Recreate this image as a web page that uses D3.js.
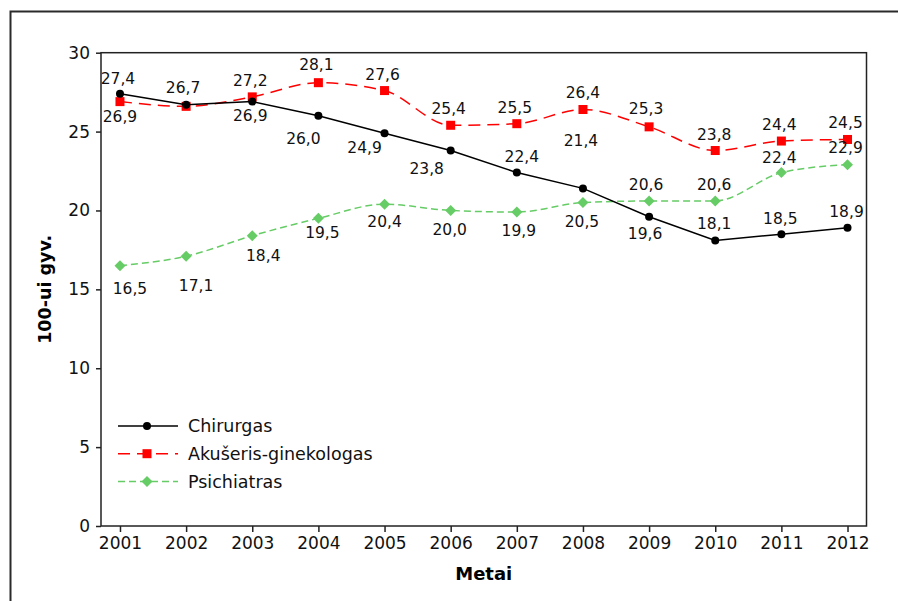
<!DOCTYPE html>
<html>
<head>
<meta charset="utf-8">
<script src="https://cdn.jsdelivr.net/npm/d3@7"></script>
<style>
  body { margin: 0; background: #fff; }
  svg { display: block; font-family: "DejaVu Sans", Verdana, sans-serif; }
</style>
</head>
<body>
<svg id="chart" width="899" height="601"></svg>
<script>
// data
var years = [2001, 2002, 2003, 2004, 2005, 2006, 2007, 2008, 2009, 2010, 2011, 2012];
var chirurgas = [27.4, 26.7, 26.9, 26.0, 24.9, 23.8, 22.4, 21.4, 19.6, 18.1, 18.5, 18.9];
var akuseris = [26.9, 26.6, 27.2, 28.1, 27.6, 25.4, 25.5, 26.4, 25.3, 23.8, 24.4, 24.5];
var psichiatras = [16.5, 17.1, 18.4, 19.5, 20.4, 20.0, 19.9, 20.5, 20.6, 20.6, 22.4, 22.9];
var seriesNames = ["Chirurgas", "Akušeris-ginekologas", "Psichiatras"];
var yTicks = [0, 5, 10, 15, 20, 25, 30];

// label offsets (dx, dy of label centre from the point), null = not shown
var chirurgasLabelPos = [[-2,-15],[-3,-17],[-2,14],[-15,23],[-20,14],[-24,18],[5,-16],[-2,-48],[-4,17],[-1,-17],[-1,-16],[-1,-16]];
var akuserisLabelPos = [[0,15],null,[-2,-16],[-2,-18],[-2,-16],[-2,-17],[-2,-16],[0,-17],[-3,-18],[-1,-16],[-2,-17],[-2,-17]];
var psichiatrasLabelPos = [[10,23],[10,29],[11,20],[4,14],[0,17],[-1,19],[2,18],[-1,19],[-3,-17],[-1,-17],[-2,-15],[-2,-17]];

var svg = d3.select("#chart");
var plotLeft = 101, plotRight = 866.5, plotTop = 52.7, plotBottom = 526;

var x = d3.scaleLinear().domain([2001 - 0.287, 2012 + 0.287]).range([plotLeft, plotRight]);
var y = d3.scaleLinear().domain([0, 30]).range([plotBottom, plotTop]);

// outer frame (cropped: only top & left visible)
svg.append("path")
  .attr("d", "M10.5,601V11.5H898")
  .attr("fill", "none").attr("stroke", "#2a2a2a").attr("stroke-width", 2);

// axes
var xAxis = svg.append("g")
  .attr("transform", "translate(0," + plotBottom + ")")
  .call(d3.axisBottom(x).tickValues(years).tickFormat(d3.format("d")).tickSizeOuter(0).tickSize(6).tickPadding(5));
var yAxis = svg.append("g")
  .attr("transform", "translate(" + plotLeft + ",0)")
  .call(d3.axisLeft(y).tickValues(yTicks).tickSizeOuter(0).tickSize(5).tickPadding(6));
[xAxis, yAxis].forEach(function(a){
  a.select(".domain").remove();
  a.selectAll("line").attr("stroke", "#222").attr("stroke-width", 1.5);
  a.selectAll("text").attr("fill", "#111").style("font-size", "17px").style("font-family", "DejaVu Sans, Verdana, sans-serif");
});

// plot frame
svg.append("rect")
  .attr("x", plotLeft).attr("y", plotTop).attr("width", plotRight - plotLeft).attr("height", plotBottom - plotTop)
  .attr("fill", "none").attr("stroke", "#222").attr("stroke-width", 1.5);

// axis titles
svg.append("text")
  .attr("x", (plotLeft + plotRight) / 2).attr("y", 580)
  .attr("text-anchor", "middle").style("font-size", "18px").style("font-weight", "bold")
  .text("Metai");
svg.append("text")
  .attr("transform", "translate(51," + (plotTop + plotBottom) / 2 + ") rotate(-90)")
  .attr("text-anchor", "middle").style("font-size", "17.5px").style("font-weight", "bold")
  .text("100-ui gyv.");

var series = [
  {name: seriesNames[0], values: chirurgas, labels: chirurgasLabelPos, color: "#000", dash: null, curve: d3.curveLinear, marker: "circle"},
  {name: seriesNames[1], values: akuseris, labels: akuserisLabelPos, color: "#ff0000", dash: "12,7", curve: d3.curveMonotoneX, marker: "square"},
  {name: seriesNames[2], values: psichiatras, labels: psichiatrasLabelPos, color: "#66cc66", dash: "7,4", curve: d3.curveMonotoneX, marker: "diamond"}
];

function drawMarker(g, type, cx, cy, color){
  if(type === "circle"){
    g.append("circle").attr("cx", cx).attr("cy", cy).attr("r", 4).attr("fill", color);
  } else if(type === "square"){
    g.append("rect").attr("x", cx - 4.5).attr("y", cy - 4.5).attr("width", 9).attr("height", 9).attr("fill", color);
  } else {
    g.append("path").attr("d", "M" + cx + "," + (cy - 5.5) + "L" + (cx + 5.5) + "," + cy + "L" + cx + "," + (cy + 5.5) + "L" + (cx - 5.5) + "," + cy + "Z").attr("fill", color);
  }
}

var fmt = function(v){ return d3.format(".1f")(v).replace(".", ","); };

// draw in reverse so black is on top
series.slice().reverse().forEach(function(s){
  var g = svg.append("g");
  var line = d3.line().x(function(d, i){ return x(years[i]); }).y(function(d){ return y(d); }).curve(s.curve);
  g.append("path").attr("d", line(s.values))
    .attr("fill", "none").attr("stroke", s.color).attr("stroke-width", 1.5)
    .attr("stroke-dasharray", s.dash);
  s.values.forEach(function(v, i){ drawMarker(g, s.marker, x(years[i]), y(v), s.color); });
});

// data labels
series.forEach(function(s){
  s.values.forEach(function(v, i){
    var p = s.labels[i];
    if(!p){ return; }
    svg.append("text")
      .attr("x", x(years[i]) + p[0]).attr("y", y(v) + p[1])
      .attr("text-anchor", "middle").attr("dy", "0.36em")
      .style("font-size", "15.5px").attr("fill", "#111")
      .text(fmt(v));
  });
});

// legend
var legend = svg.append("g").attr("transform", "translate(118,426)");
series.forEach(function(s, i){
  var row = legend.append("g").attr("transform", "translate(0," + (i * 27.7) + ")");
  row.append("line").attr("x1", 0).attr("x2", 60).attr("y1", 0).attr("y2", 0)
    .attr("stroke", s.color).attr("stroke-width", 1.5).attr("stroke-dasharray", s.dash);
  drawMarker(row, s.marker, 29, 0, s.color);
  row.append("text").attr("x", 70).attr("y", 0).attr("dy", "0.36em")
    .style("font-size", "17.5px").attr("fill", "#111").text(s.name);
});
</script>
</body>
</html>
